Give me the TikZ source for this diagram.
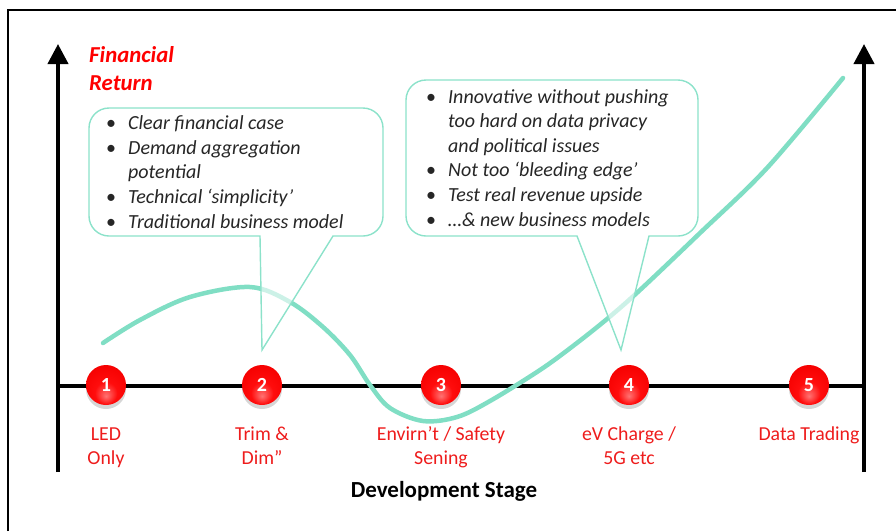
\documentclass[tikz,border=0pt]{standalone}
\usepackage{fontspec}
\setmainfont{Carlito}
\usetikzlibrary{arrows.meta}
\definecolor{mint}{RGB}{128,222,196}
\definecolor{mintline}{RGB}{140,226,202}
\definecolor{stagered}{RGB}{238,28,28}
\pgfdeclareradialshading{redball}{\pgfpoint{0bp}{-14bp}}{%
  color(0bp)=(red!55!white);
  color(14bp)=(red!95!white);
  color(32bp)=(red!96!black);
  color(50bp)=(red!65!black)}
\begin{document}
\begin{tikzpicture}[x=1pt,y=-1pt,
  frame/.style={draw=black,line width=1.3pt},
  axis/.style={draw=black,line width=4pt,-{Triangle[width=20pt,length=20pt]}},
  baseaxis/.style={draw=black,line width=4pt},
  growth/.style={draw=mint,line width=4.5pt,line cap=round},
  callout/.style={draw=mintline,line width=1.4pt,fill=white,fill opacity=0.6},
  itemtext/.style={anchor=base west,align=left,inner sep=0pt,text=black!85,
    font=\fontsize{20}{24.6}\selectfont\itshape},
  axistitle/.style={anchor=base west,align=left,inner sep=0pt,text=red,
    font=\fontsize{22.8}{27.5}\selectfont\bfseries\itshape},
  stagelabel/.style={anchor=base,align=center,inner sep=0pt,text=stagered,
    font=\fontsize{19.8}{24}\selectfont},
  stageball/.style={circle,minimum size=40pt,inner sep=0pt,shading=redball,
    text=white,font=\fontsize{20}{20}\selectfont\bfseries},
  ballshadow/.style={fill=black,opacity=0.16},
  xtitle/.style={anchor=base,inner sep=0pt,text=black,
    font=\fontsize{23}{23}\selectfont\bfseries}]

\useasboundingbox (0,0) rectangle (896,531);

% outer frame (only the top and left edges fall inside the page)
\draw[frame] (8,531) -- (8,10) -- (896,10);

% axes
\coordinate (yl0) at (58,472);
\coordinate (yl1) at (58,44);
\coordinate (yr0) at (864,472);
\coordinate (yr1) at (864,44);
\coordinate (x0) at (58,386);
\coordinate (x1) at (864,386);
\draw[axis] (yl0) -- (yl1);
\draw[axis] (yr0) -- (yr1);
\draw[baseaxis] (x0) -- (x1);

% financial return curve
\draw[growth] plot[smooth,tension=0.55] coordinates {
  (103,343) (140,320) (190,297) (250,287) (290,302) (323,327) (350,355)
  (370,385) (390,408) (423,421) (457,417) (490,401) (540,370) (573,346)
  (607,319) (640,290) (700,233) (767,168) (843,78)};

% speech-bubble callouts
\newcommand\calloutpath[8]{%
  \path[callout] (#1+20,#2) -- (#3-20,#2) arc (270:360:20) -- (#3,#4-20)
    arc (0:90:20) -- (#6,#4) -- (#7,#8) -- (#5,#4) -- (#1+20,#4)
    arc (90:180:20) -- (#1,#2+20) arc (180:270:20) -- cycle;}
\calloutpath{89}{108}{383}{236}{260}{333}{262}{350}
\calloutpath{406}{80}{698}{236}{577}{649}{621}{350}

% bullet lists (nodes sit on the baseline of their last line)
\newcommand\bitem{\makebox[22pt][l]{\upshape\textbullet}}
\newcommand\bcont{\hspace*{22pt}}
\node[itemtext] (notes1) at (106,228) {%
  \bitem Clear financial case\\
  \bitem Demand aggregation\\
  \bcont potential\\
  \bitem Technical ‘simplicity’\\
  \bitem Traditional business model};
\node[itemtext] (notes2) at (426,226) {%
  \bitem Innovative without pushing\\
  \bcont too hard on data privacy\\
  \bcont and political issues\\
  \bitem Not too ‘bleeding edge’\\
  \bitem Test real revenue upside\\
  \bitem …\& new business models};

% axis titles
\node[axistitle] (ytitle) at (89,90) {Financial\\Return};
\node[xtitle] (xlabel) at (444,497) {Development Stage};

% development stages
\foreach \n/\x/\y/\lab in {1/106/464/{LED\\Only},2/262/464/{Trim \&\\Dim”},
    3/441/464/{Envirn’t / Safety\\Sening},4/629/464/{eV Charge /\\5G etc},
    5/809/440/{Data Trading}}{
  \fill[ballshadow] (\x,389) circle (20);
  \node[stageball] (s\n) at (\x,385) {\n};
  \node[stagelabel] (l\n) at (\x,\y) {\lab};
}
\end{tikzpicture}
\end{document}
